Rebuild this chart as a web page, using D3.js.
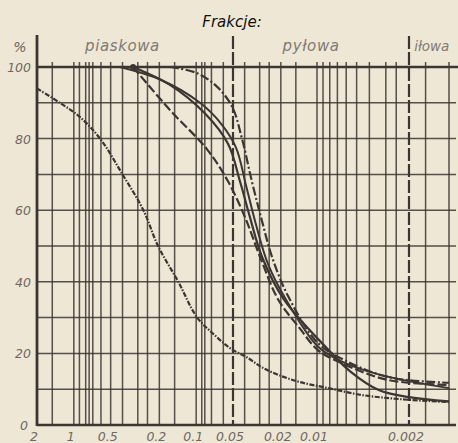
<!DOCTYPE html>
<html><head><meta charset="utf-8">
<script src="https://cdn.jsdelivr.net/npm/d3@7"></script>
<style>
html,body{margin:0;padding:0;background:#eee7d6;}
svg{display:block;}
</style></head>
<body>
<svg id="c" width="458" height="443"></svg>
<script>
// ---- data (grain diameter in mm, percent passing) ----
const xTickValues = [2, 1, 0.5, 0.2, 0.1, 0.05, 0.02, 0.01, 0.002];
const xTickLabels = ["2", "1", "0.5", "0.2", "0.1", "0.05", "0.02", "0.01", "0.002"];
const yTickValues = [0, 20, 40, 60, 80, 100];
const gridDiameters = [1.5, 1, 0.9, 0.8, 0.75, 0.7, 0.6, 0.5, 0.4, 0.3, 0.25, 0.2, 0.15,
  0.1, 0.09, 0.085, 0.075, 0.06, 0.04, 0.03, 0.025, 0.02, 0.015, 0.01, 0.009, 0.008,
  0.007, 0.006, 0.005, 0.004, 0.003, 0.0025, 0.0015, 0.001];
const gridPercents = [10, 20, 30, 40, 50, 60, 70, 80, 90];
const fractionBounds = [0.05, 0.002];
const fractionNames = ["piaskowa", "pyłowa", "iłowa"];
const fractionLabelAt = [0.4, 0.0112, 0.00183];
const title = "Frakcje:";

const curveA_d = [2.0, 1.30, 0.89, 0.61, 0.40, 0.27, 0.205, 0.14, 0.098, 0.070, 0.053, 0.0375, 0.029, 0.021, 0.0139, 0.0082, 0.0046, 0.0023, 0.001];
const curveA_p = [94, 90, 86, 80, 70, 60, 50, 40, 30, 25, 21.5, 18.7, 16.2, 14, 12, 10.3, 8.4, 7.2, 6.4];

const curveS1_d = [0.42, 0.197, 0.093, 0.062, 0.0472, 0.039, 0.0322, 0.0256, 0.0181, 0.0099, 0.0067, 0.0033, 0.001];
const curveS1_p = [100, 96.5, 90, 84, 77.5, 67, 56, 45, 35, 22, 18, 14, 10.3];

const curveS2_d = [0.328, 0.164, 0.0846, 0.0548, 0.0437, 0.0361, 0.0287, 0.0188, 0.0082, 0.0056, 0.0034, 0.0020, 0.001];
const curveS2_p = [100, 95, 87, 78.5, 68, 58, 47, 35, 21, 15, 9.8, 7.8, 6.6];

const curveQ_d = [0.328, 0.164, 0.0815, 0.0548, 0.0397, 0.0298, 0.021, 0.0139, 0.0099, 0.0067, 0.0029, 0.001];
const curveQ_p = [100, 88, 77, 68, 58, 47, 35, 27, 21, 17.5, 12.6, 11.2];

const curveR_d = [0.164, 0.102, 0.070, 0.051, 0.0421, 0.0348, 0.0287, 0.0237, 0.0174, 0.0099, 0.0061, 0.0028, 0.001];
const curveR_p = [100, 98.5, 95, 89, 80, 68, 57, 47, 36, 23, 18, 13.3, 11.8];

const junction = {d: 0.328, p: 100};

// ---- drawing ----
const svg = d3.select("#c");
const ink = "#3d3531";
const grey = "#6e6862";

const x = d3.scaleLog().domain([2, 0.05, 0.01, 0.002, 0.001]).range([37, 233, 317, 409, 449]);
const y = d3.scaleLinear().domain([0, 100]).range([425, 67]);

// horizontal grid
svg.append("g").selectAll("line").data(gridPercents).join("line")
  .attr("x1", x(2)).attr("x2", 456)
  .attr("y1", d => y(d)).attr("y2", d => y(d))
  .attr("stroke", ink).attr("stroke-width", 1.5).attr("opacity", 0.85);

// vertical grid
svg.append("g").selectAll("line").data(gridDiameters).join("line")
  .attr("x1", d => x(d)).attr("x2", d => x(d))
  .attr("y1", y(100) - 5).attr("y2", y(0))
  .attr("stroke", ink).attr("stroke-width", 1.5).attr("opacity", 0.85);

// fraction boundary dashed lines
svg.append("g").selectAll("line").data(fractionBounds).join("line")
  .attr("x1", d => x(d)).attr("x2", d => x(d))
  .attr("y1", 36).attr("y2", y(0))
  .attr("stroke", ink).attr("stroke-width", 2.2)
  .attr("stroke-dasharray", "13,3");

// top 100% line, bottom axis, left axis
svg.append("line").attr("x1", x(2)).attr("x2", 458).attr("y1", y(100)).attr("y2", y(100))
  .attr("stroke", ink).attr("stroke-width", 2.5);
svg.append("line").attr("x1", x(2)).attr("x2", 456).attr("y1", y(0)).attr("y2", y(0))
  .attr("stroke", ink).attr("stroke-width", 2.5);
svg.append("line").attr("x1", x(2)).attr("x2", x(2)).attr("y1", 35).attr("y2", y(0) + 1)
  .attr("stroke", ink).attr("stroke-width", 2.8);

// curves
const line = d3.line().x(p => x(p[0])).y(p => y(p[1])).curve(d3.curveCatmullRom.alpha(0.5));
const series = [
  {d: curveA_d, p: curveA_p, dash: "5,1.5,1.5,1.5", w: 2.2},
  {d: curveS1_d, p: curveS1_p, dash: null, w: 2.0},
  {d: curveS2_d, p: curveS2_p, dash: null, w: 2.2},
  {d: curveQ_d, p: curveQ_p, dash: "9,3", w: 2.2},
  {d: curveR_d, p: curveR_p, dash: "9,2.5,2,2.5", w: 2.2}
];
svg.append("g").selectAll("path").data(series).join("path")
  .attr("d", s => line(s.d.map((v, i) => [v, s.p[i]])))
  .attr("fill", "none").attr("stroke", ink)
  .attr("stroke-width", s => s.w)
  .attr("stroke-dasharray", s => s.dash);

svg.append("circle").attr("cx", x(junction.d)).attr("cy", y(junction.p)).attr("r", 3).attr("fill", ink);

// text
const font = "'DejaVu Sans', sans-serif";
svg.append("g").selectAll("text").data(yTickValues).join("text")
  .attr("x", d => d === 0 ? 28 : 31).attr("y", d => y(d) + 5)
  .attr("text-anchor", "end").attr("font-family", font).attr("font-style", "italic")
  .attr("font-size", 12.5).attr("fill", grey).text(d => d);
svg.append("text").attr("x", 20).attr("y", 52).attr("text-anchor", "middle")
  .attr("font-family", font).attr("font-style", "italic").attr("font-size", 14)
  .attr("fill", grey).text("%");

svg.append("g").selectAll("text").data(xTickValues).join("text")
  .attr("x", d => x(d) - 3).attr("y", 441)
  .attr("text-anchor", "middle").attr("font-family", font).attr("font-style", "italic")
  .attr("font-size", 12.5).attr("fill", grey).text((d, i) => xTickLabels[i]);

svg.append("text").attr("x", 232).attr("y", 27).attr("text-anchor", "middle")
  .attr("font-family", font).attr("font-style", "italic").attr("font-size", 15)
  .attr("fill", "#111").text(title);

svg.append("g").selectAll("text").data(fractionNames).join("text")
  .attr("x", (d, i) => x(fractionLabelAt[i])).attr("y", 51)
  .attr("text-anchor", (d, i) => i === 2 ? "start" : "middle")
  .attr("font-family", font).attr("font-style", "italic")
  .attr("font-size", (d, i) => i === 2 ? 13.5 : 15)
  .attr("letter-spacing", (d, i) => i === 2 ? 0 : 0.6)
  .attr("fill", "#807a73").text(d => d);
</script>
</body></html>
